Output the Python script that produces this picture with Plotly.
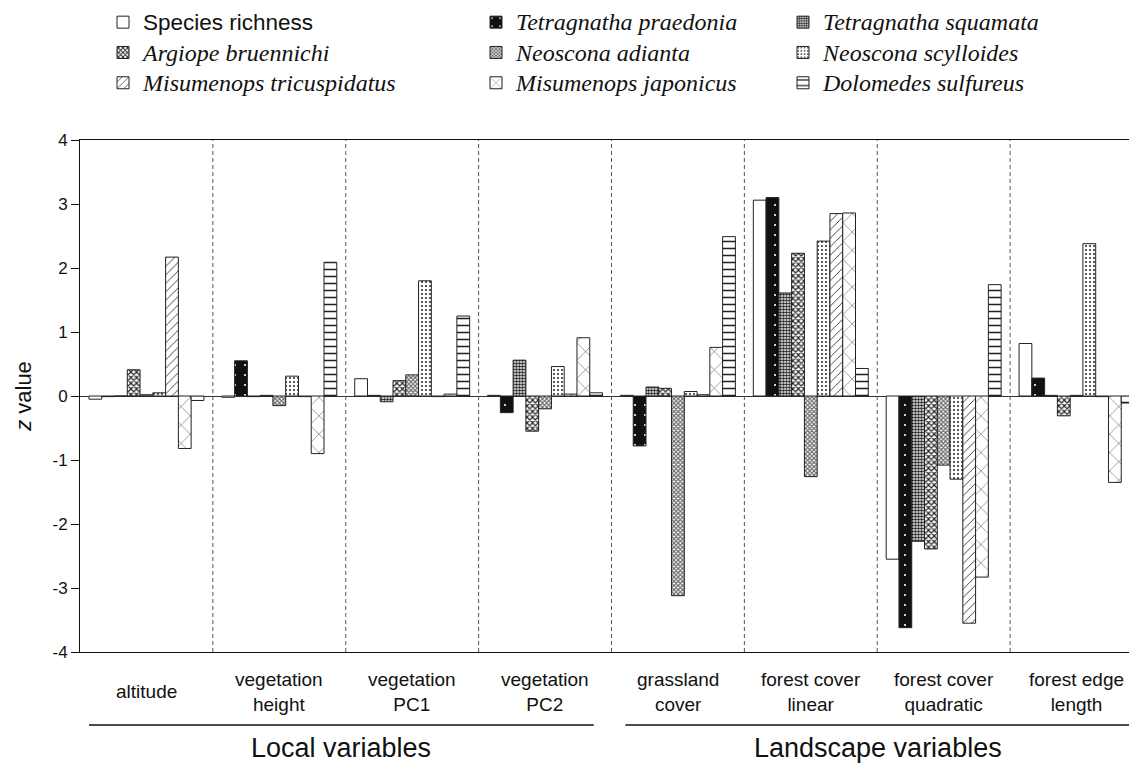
import plotly.graph_objects as go

categories = ["altitude", "vegetation<br>height", "vegetation<br>PC1", "vegetation<br>PC2",
              "grassland<br>cover", "forest cover<br>linear", "forest cover<br>quadratic",
              "forest edge<br>length"]

species_richness = [-0.05, -0.02, 0.27, 0.01, 0.01, 3.06, -2.55, 0.82]
t_praedonia      = [-0.01, 0.55, 0.01, -0.26, -0.78, 3.10, -3.62, 0.28]
t_squamata       = [0.00, -0.01, -0.09, 0.56, 0.14, 1.61, -2.27, 0.01]
a_bruennichi     = [0.41, 0.01, 0.24, -0.55, 0.12, 2.23, -2.39, -0.31]
n_adianta        = [0.02, -0.15, 0.33, -0.20, -3.12, -1.26, -1.08, 0.01]
n_scylloides     = [0.05, 0.31, 1.80, 0.46, 0.07, 2.42, -1.30, 2.38]
m_tricuspidatus  = [2.17, -0.01, -0.01, 0.03, 0.02, 2.85, -3.55, -0.01]
m_japonicus      = [-0.82, -0.90, 0.03, 0.91, 0.76, 2.86, -2.83, -1.35]
d_sulfureus      = [-0.07, 2.09, 1.25, 0.05, 2.49, 0.43, 1.74, -0.11]

series_names = ["Species richness", "Tetragnatha praedonia", "Tetragnatha squamata",
                "Argiope bruennichi", "Neoscona adianta", "Neoscona scylloides",
                "Misumenops tricuspidatus", "Misumenops japonicus", "Dolomedes sulfureus"]
series_values = [species_richness, t_praedonia, t_squamata, a_bruennichi, n_adianta,
                 n_scylloides, m_tricuspidatus, m_japonicus, d_sulfureus]

tick_vals = [-4, -3, -2, -1, 0, 1, 2, 3, 4]
tick_text = ["-4", "-3", "-2", "-1", "0", "1", "2", "3", "4"]
group_titles = ["Local variables", "Landscape variables"]

styles = [
    dict(color="white", pattern=dict(shape="")),
    dict(color="#111111", pattern=dict(shape=".", bgcolor="#111111", fgcolor="white", size=10, solidity=0.035, fillmode="replace")),
    dict(color="white", pattern=dict(shape=".", bgcolor="white", fgcolor="#222222", size=3, solidity=0.6, fillmode="replace")),
    dict(color="white", pattern=dict(shape="x", bgcolor="white", fgcolor="#222222", size=4, solidity=0.5, fillmode="replace")),
    dict(color="white", pattern=dict(shape="x", bgcolor="white", fgcolor="#666666", size=3, solidity=0.6, fillmode="replace")),
    dict(color="white", pattern=dict(shape=".", bgcolor="white", fgcolor="#333333", size=4, solidity=0.22, fillmode="replace")),
    dict(color="white", pattern=dict(shape="/", bgcolor="white", fgcolor="#333333", size=6, solidity=0.15, fillmode="replace")),
    dict(color="white", pattern=dict(shape="x", bgcolor="white", fgcolor="#333333", size=13, solidity=0.07, fillmode="replace")),
    dict(color="white", pattern=dict(shape="-", bgcolor="white", fgcolor="#222222", size=7, solidity=0.22, fillmode="replace")),
]

legend_ids = ["legend", "legend2", "legend3"]

fig = go.Figure()
xs = list(range(len(categories)))
for i, (name, vals, st) in enumerate(zip(series_names, series_values, styles)):
    if i == 0:
        label = "<span style='font-size:22.5px'>%s</span>" % name
    else:
        label = "<span style='font-family:\"Liberation Serif\";font-size:24px'><i>%s</i></span>" % name
    fig.add_trace(go.Bar(
        x=xs, y=vals, name=label,
        marker=dict(color=st["color"], pattern=st["pattern"],
                    line=dict(color="#222222", width=1)),
        legend=legend_ids[i % 3], legendgroup=name,
    ))

# the page body adds an 8px offset, so the figure is 8px smaller than the window
W, H = 1129, 760
L, T, B = 72, 132, 116
fig.update_layout(
    width=W, height=H,
    margin=dict(l=L, r=0, t=T, b=B, autoexpand=False),
    paper_bgcolor="white", plot_bgcolor="white",
    barmode="group", bargap=0.135, bargroupgap=0,
    font=dict(family="Liberation Sans, Arial, sans-serif", color="#111111", size=17),
)

leg_common = dict(xref="paper", yref="paper", y=1.2695, yanchor="top", xanchor="left",
                  orientation="v", bgcolor="rgba(0,0,0,0)", tracegroupgap=0,
                  font=dict(size=21, family="Liberation Sans, Arial, sans-serif", color="#111111"))
fig.update_layout(
    legend=dict(x=(95 - L) / (W - L), **leg_common),
    legend2=dict(x=(468 - L) / (W - L), **leg_common),
    legend3=dict(x=(775 - L) / (W - L), **leg_common),
)

fig.update_xaxes(range=[-0.5, 7.455], showticklabels=False, ticks="",
                 showline=True, linecolor="#111111", linewidth=1, mirror=True,
                 showgrid=False, zeroline=False, automargin=False)
fig.update_yaxes(range=[-4, 4], tickvals=tick_vals, ticktext=tick_text,
                 ticks="outside", ticklen=8, tickcolor="#111111",
                 tickfont=dict(size=17), automargin=False,
                 showline=True, linecolor="#111111", linewidth=1, mirror=False,
                 showgrid=False, zeroline=True, zerolinecolor="#333333", zerolinewidth=1,
                 title=dict(text="<i>z</i> value", font=dict(size=22), standoff=14))

# group separators
for k in range(len(categories) - 1):
    fig.add_shape(type="line", xref="x", yref="paper", x0=k + 0.5, x1=k + 0.5, y0=0, y1=1,
                  line=dict(color="#555555", width=1, dash="4px,3px"))

# category labels
for k, c in enumerate(categories):
    fig.add_annotation(x=k, xref="x", y=-0.078, yref="paper", text=c, showarrow=False,
                       xanchor="center", yanchor="middle", font=dict(size=19))

# group brackets
brackets = [(0.0085, 0.486), (0.516, 0.993)]
for (a, b), title in zip(brackets, group_titles):
    fig.add_shape(type="line", xref="paper", yref="paper", x0=a, x1=b, y0=-0.1426, y1=-0.1426,
                  line=dict(color="#111111", width=1.5))
    fig.add_annotation(x=(a + b) / 2, xref="paper", y=-0.1875, yref="paper", text=title,
                       showarrow=False, xanchor="center", yanchor="middle", font=dict(size=27))

fig.write_html("out.html")
